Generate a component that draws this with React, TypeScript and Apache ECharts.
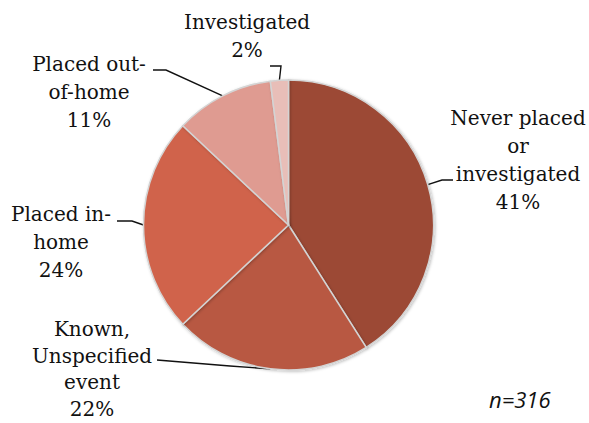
import React, { useEffect, useRef } from "react";
import * as echarts from "echarts";

const categories = [
  "Never placed\nor\ninvestigated",
  "Known,\nUnspecified\nevent",
  "Placed in-\nhome",
  "Placed out-\nof-home",
  "Investigated",
];
const percents = [41, 22, 24, 11, 2];
const colors = ["#9C4A36", "#B85942", "#D0644B", "#DF9B91", "#E8BEB8"];
const noteText = "n=316";

// label placement (centre of text block) and label-line bend/end points
const labelPos = [
  { x: 518, y: 160, lh: 28, p1: [442, 180], p2: [453, 180] },
  { x: 92, y: 369, lh: 26.5, p1: [230, 366], p2: [157, 360] },
  { x: 61, y: 242, lh: 28, p1: [132, 221], p2: [117, 221] },
  { x: 89, y: 92, lh: 28, p1: [166, 70], p2: [153, 70] },
  { x: 247, y: 36, lh: 28, p1: [281, 66], p2: [270, 66] },
];

export default function App() {
  const ref = useRef<HTMLDivElement>(null);
  useEffect(() => {
    document.body.style.margin = "0";
    const chart = echarts.init(ref.current!, null, { renderer: "svg" });
    chart.setOption({
      animation: false,
      backgroundColor: "#ffffff",
      title: {
        text: noteText,
        left: 484,
        top: 383,
        textStyle: {
          fontFamily: "Open Sans",
          fontStyle: "italic",
          fontWeight: "normal",
          fontSize: 22,
          color: "#111",
        },
      },
      series: [
        {
          type: "pie",
          center: [288.5, 225],
          radius: [0, 145],
          startAngle: 90,
          clockwise: true,
          avoidLabelOverlap: false,
          data: categories.map((c, i) => ({
            name: c,
            value: percents[i],
            itemStyle: { color: colors[i] },
            label: { lineHeight: labelPos[i].lh },
          })),
          itemStyle: {
            borderColor: "#d4d4d4",
            borderWidth: 1.5,
            shadowBlur: 3,
            shadowOffsetX: 1,
            shadowOffsetY: 1,
            shadowColor: "rgba(0,0,0,0.25)",
          },
          label: {
            show: true,
            position: "outside",
            formatter: "{b}\n{c}%",
            fontFamily: "DejaVu Serif",
            fontSize: 20,
            lineHeight: 28,
            color: "#111",
            align: "center",
          },
          labelLine: {
            show: true,
            lineStyle: { color: "#111", width: 1.4 },
          },
          labelLayout: (params: any) => {
            const p = labelPos[params.dataIndex];
            const p0 = params.labelLinePoints
              ? params.labelLinePoints[0]
              : [p.p1[0], p.p1[1]];
            return {
              x: p.x,
              y: p.y,
              align: "center",
              verticalAlign: "middle",
              labelLinePoints: [p0, p.p1, p.p2],
            };
          },
        },
      ],
    });
    return () => chart.dispose();
  }, []);
  return (
    <div
      ref={ref}
      style={{ position: "absolute", left: 0, top: 0, width: 589, height: 423 }}
    />
  );
}
